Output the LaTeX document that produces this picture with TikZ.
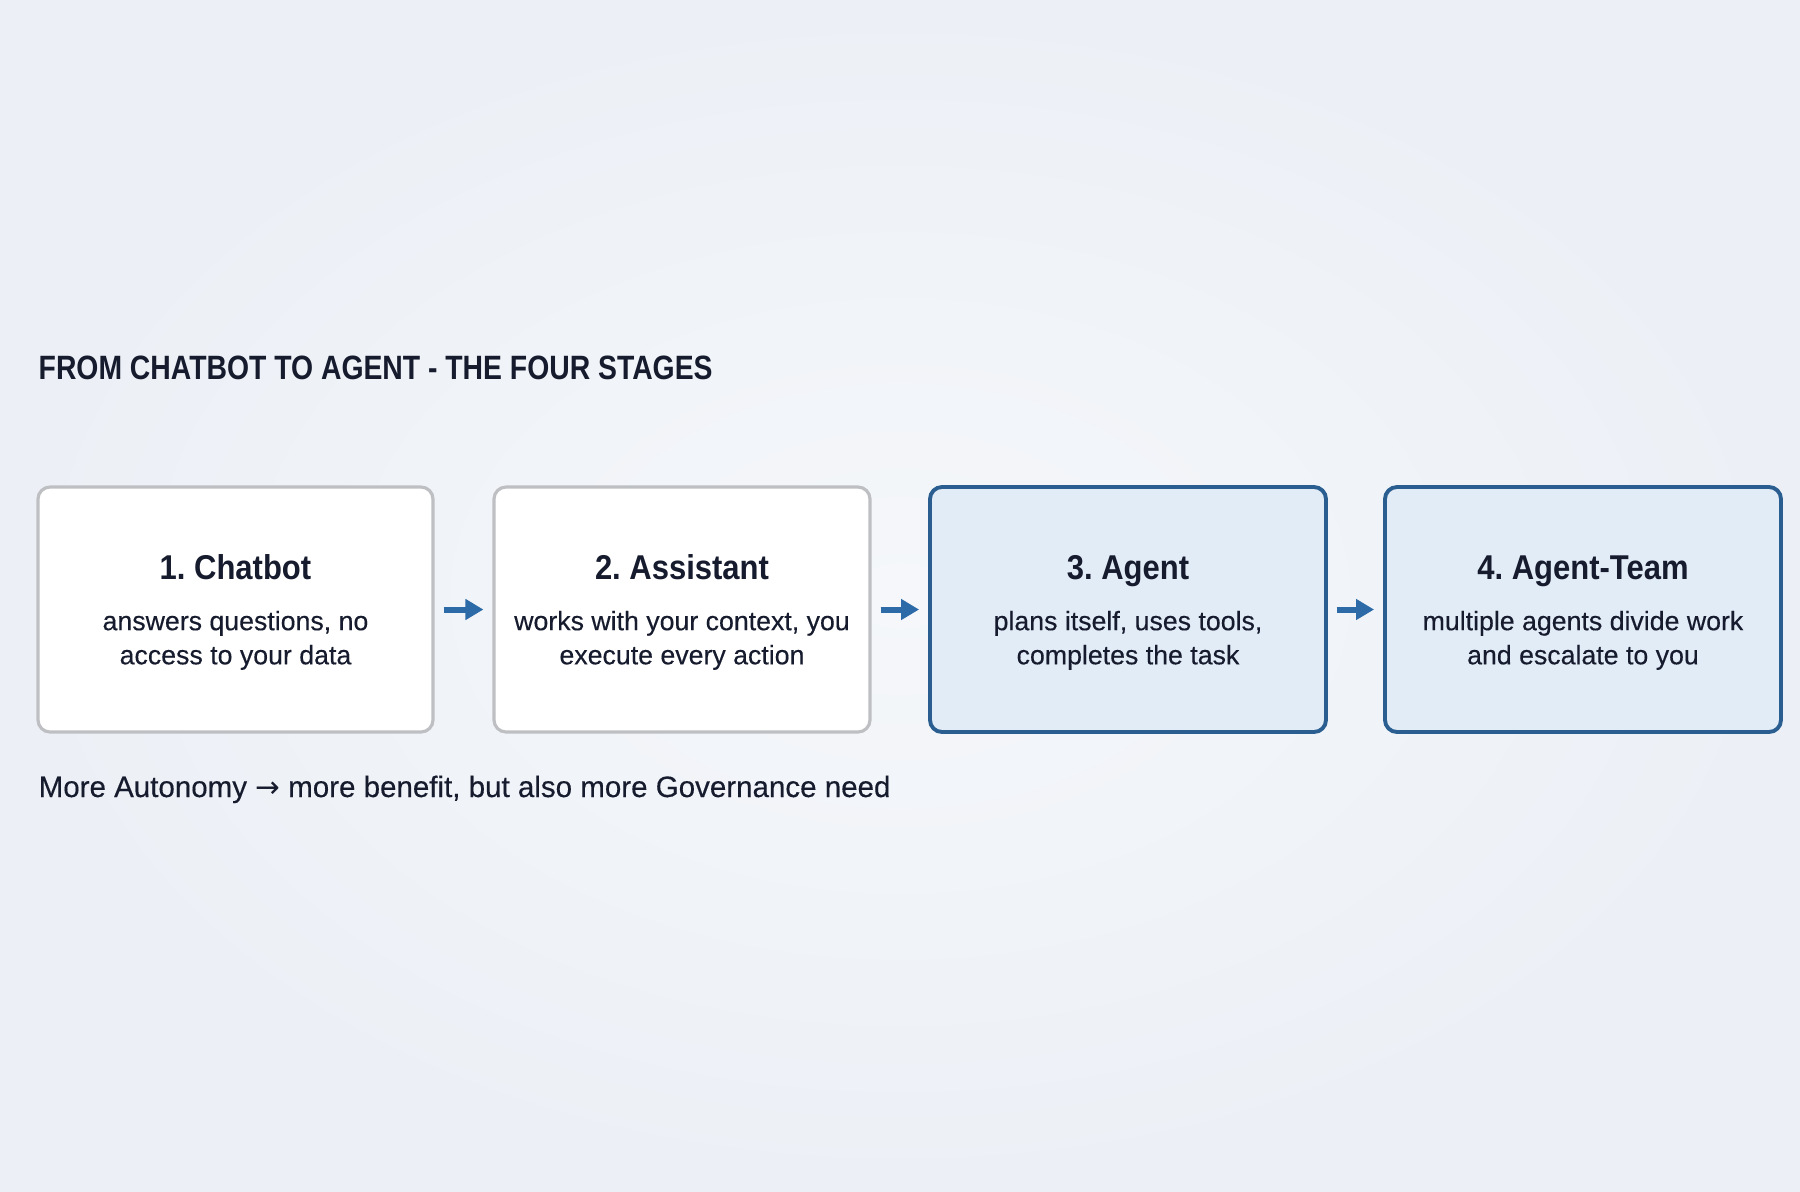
\documentclass[tikz,border=0pt]{standalone}
\usepackage{fontspec}
\setmainfont{Liberation Sans}[FakeBold=0.3]
\newfontfamily\headfont{Liberation Sans}[FakeStretch=0.9]
\newfontfamily\titlefont{Liberation Sans}[FakeStretch=0.84]
\newfontfamily\arrowfont{DejaVu Sans}
\usetikzlibrary{arrows.meta}
\tikzset{>={Triangle[length=1.8mm,width=2mm]}}
\definecolor{bgblue}{RGB}{236,240,246}
\definecolor{bglight}{RGB}{245,247,250}
\definecolor{ink}{RGB}{22,27,46}
\definecolor{greyline}{RGB}{190,191,194}
\definecolor{darkblue}{RGB}{42,94,145}
\definecolor{paleblue}{RGB}{226,236,247}
\definecolor{arrowblue}{RGB}{45,107,168}
\tikzset{
  stage/.style={draw=greyline, line width=0.9pt, fill=white, rounded corners=1.2mm,
    minimum width=3.95cm, minimum height=2.45cm, inner sep=0pt, align=center,
    text=ink, font=\fontsize{7.6}{9.7}\selectfont},
  active/.style={stage, draw=darkblue, line width=1.1pt, fill=paleblue},
  flow/.style={->, line width=1.7pt, draw=arrowblue, shorten <=0.9mm, shorten >=0.9mm}
}
\newcommand{\stagename}[1]{{\headfont\bfseries\fontsize{9.8}{11}\selectfont\rule{0pt}{8.7pt}#1}\\[4.65pt]}
\frenchspacing

\begin{document}
\begin{tikzpicture}
    \shade [inner color=bglight, outer color=bgblue] (0,0) rectangle (18,-11.91);
    \node [anchor=base west, inner sep=0pt, text=ink, font=\titlefont\bfseries\fontsize{9.6}{11}\selectfont] (title) at (0.38,-3.79) {FROM CHATBOT TO AGENT - THE FOUR STAGES};
    \node [stage] (b1) at (2.355,-6.095) {\stagename{1. Chatbot}answers questions, no\\access to your data};
    \node [stage, minimum width=3.76cm] (b2) at (6.82,-6.095) {\stagename{2. Assistant}works with your context, you\\execute every action};
    \node [active, minimum width=3.96cm] (b3) at (11.28,-6.095) {\stagename{3. Agent}plans itself, uses tools,\\completes the task};
    \node [active, minimum width=3.96cm] (b4) at (15.83,-6.095) {\stagename{4. Agent-Team}multiple agents divide work\\and escalate to you};
    \foreach \a/\b in {b1/b2,b2/b3,b3/b4}
      \draw [flow] (\a) -- (\b);
    \node [anchor=base west, inner sep=0pt, text=ink, font=\fontsize{8.4}{10}\selectfont] (note) at (0.38,-7.97) {More Autonomy {\arrowfont →} more benefit, but also more Governance need};
  \end{tikzpicture}
\end{document}
